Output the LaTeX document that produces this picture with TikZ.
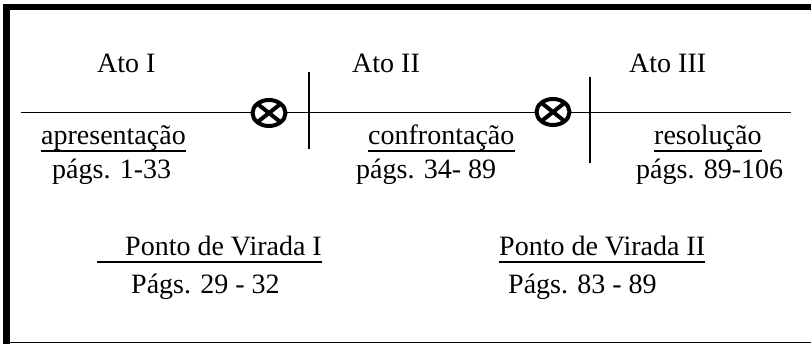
\documentclass[tikz,border=0pt]{standalone}
\usepackage{fontspec}
\setmainfont{Liberation Serif}
\usetikzlibrary{shapes.geometric}
\tikzset{
    acttext/.style={
        inner sep=0pt,
        anchor=base west,
        font=\fontsize{28}{34}\selectfont
    },
    virada/.style={
        draw,
        ellipse,
        fill=white,
        line width=4pt,
        minimum width=33pt,
        minimum height=26pt,
        inner sep=0pt,
        path picture={
            \draw[line width=4pt]
              (path picture bounding box.north west) -- (path picture bounding box.south east)
              (path picture bounding box.north east) -- (path picture bounding box.south west);
        }
    },
    timeline/.style={line width=1.3pt},
    divider/.style={line width=1.8pt},
    ulline/.style={line width=1.7pt}
}

\begin{document}
\begin{tikzpicture}[x=1pt,y=-1pt]
  \useasboundingbox (0,0) rectangle (811,344);

  % Frame: thick left and top edges, thin bottom edge
  \fill (3,4) rectangle (10,344);
  \fill (3,4) rectangle (811,10);
  \fill (3,341.8) rectangle (811,343.2);

  % Timeline
  \coordinate (lineL) at (21,112.3);
  \coordinate (lineR) at (791,112.3);
  \draw[timeline] (lineL) -- (lineR);

  % Act dividers
  \coordinate (d1top) at (309,72);
  \coordinate (d1bot) at (309,149);
  \coordinate (d2top) at (590,77);
  \coordinate (d2bot) at (590,163);
  \draw[divider] (d1top) -- (d1bot);
  \draw[divider] (d2top) -- (d2bot);

  % Plot points
  \node[virada] (pv1) at (269,113) {};
  \node[virada] (pv2) at (553,112) {};

  % Acts
  \node[acttext] (ato1) at (97,73) {Ato I};
  \node[acttext] (ato2) at (352,73) {Ato II};
  \node[acttext] (ato3) at (629,73) {Ato III};

  \node[acttext] (apres) at (41,145) {apresentação};
  \node[acttext] (confr) at (368,145) {confrontação};
  \node[acttext] (resol) at (654,145) {resolução};

  \node[acttext] (pag1) at (52,179) {págs. 1-33};
  \node[acttext] (pag2) at (356,179) {págs. 34- 89};
  \node[acttext] (pag3) at (636,179) {págs. 89-106};

  % Turning points
  \node[acttext] (virada1) at (97,256) {\hspace*{28pt}Ponto de Virada I};
  \node[acttext] (virada2) at (499,256) {Ponto de Virada II};
  \node[acttext] (pagv1) at (131,294) {Págs. 29 - 32};
  \node[acttext] (pagv2) at (508,294) {Págs. 83 - 89};

  % Underlines
  \foreach \n in {apres,confr,resol,virada1,virada2} {
    \draw[ulline] ([yshift=-6pt]\n.base west) -- ([yshift=-6pt]\n.base east);
  }
\end{tikzpicture}
\end{document}
